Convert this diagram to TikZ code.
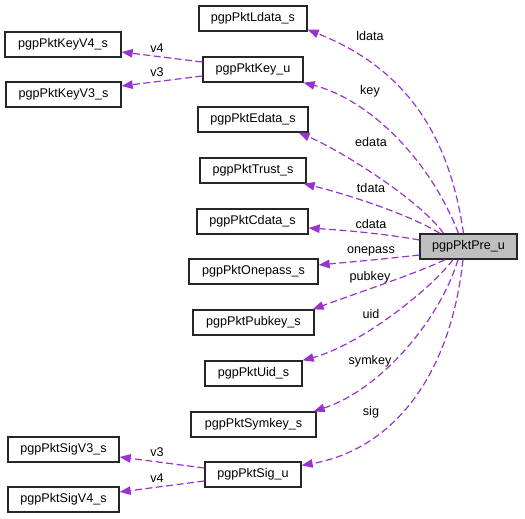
\documentclass[tikz,border=0pt]{standalone}
\usepackage{fontspec}
\setmainfont{Liberation Sans}
\usetikzlibrary{arrows.meta}
\definecolor{edgecol}{HTML}{9A32CD}
\definecolor{hl}{HTML}{BFBFBF}
\begin{document}
\begin{tikzpicture}[x=1pt,y=-1pt,
  box/.style={draw=black!85,line width=1.3pt,minimum height=25pt,inner sep=0pt,font=\fontsize{12.6}{14}\selectfont},
  use/.style={draw=edgecol,line width=1.2pt,dash pattern=on 7pt off 3.5pt,-{Triangle[length=11pt,width=8.5pt,fill=edgecol]}},
  lbl/.style={font=\fontsize{12.6}{14}\selectfont,inner sep=0pt}]
\useasboundingbox (0,0) rectangle (525,519);
\node[box,minimum width=108pt] (ldata) at (253,18.5) {pgpPktLdata\_s};
\node[box,minimum width=116pt] (keyv4) at (63,44.5) {pgpPktKeyV4\_s};
\node[box,minimum width=100pt] (key) at (253,69.5) {pgpPktKey\_u};
\node[box,minimum width=115pt] (keyv3) at (63.5,94.5) {pgpPktKeyV3\_s};
\node[box,minimum width=110pt] (edata) at (253,119.5) {pgpPktEdata\_s};
\node[box,minimum width=106pt] (trust) at (253,170.5) {pgpPktTrust\_s};
\node[box,minimum width=111pt] (cdata) at (252.5,221.5) {pgpPktCdata\_s};
\node[box,minimum width=97pt,fill=hl] (pre) at (468.5,246.5) {pgpPktPre\_u};
\node[box,minimum width=129pt] (onepass) at (253.5,271.5) {pgpPktOnepass\_s};
\node[box,minimum width=121pt] (pubkey) at (253.5,322.5) {pgpPktPubkey\_s};
\node[box,minimum width=97pt] (uid) at (253.5,373.5) {pgpPktUid\_s};
\node[box,minimum width=125pt] (symkey) at (253.5,424.5) {pgpPktSymkey\_s};
\node[box,minimum width=111pt] (sigv3) at (63.5,449.5) {pgpPktSigV3\_s};
\node[box,minimum width=96pt] (sig) at (253,474.5) {pgpPktSig\_u};
\node[box,minimum width=111pt] (sigv4) at (63.5,499.5) {pgpPktSigV4\_s};

\draw[use] ([xshift=-5]pre.north) .. controls (450,140) and (410,70) .. ([yshift=2]ldata.south east);
\draw[use] ([xshift=-10]pre.north) .. controls (430,160) and (370,100) .. (key.south east);
\draw[use] ([xshift=-25]pre.north) .. controls (420,200) and (340,150) .. ([xshift=-10]edata.south east);
\draw[use] ([xshift=-28.5]pre.north) .. controls (410,215) and (350,195) .. ([xshift=-3]trust.south east);
\draw[use] ([yshift=6.5]pre.west) .. controls (380,233) and (340,230) .. ([yshift=-6.5]cdata.east);
\draw[use] ([yshift=-8.5]pre.west) .. controls (385,259) and (350,262) .. ([yshift=6.5]onepass.east);
\draw[use] ([xshift=-23.5]pre.south) .. controls (420,272) and (360,292) .. ([xshift=-2]pubkey.north east);
\draw[use] ([xshift=-15.5]pre.south) .. controls (430,290) and (360,345) .. (uid.north east);
\draw[use] ([xshift=-10.5]pre.south) .. controls (440,320) and (380,390) .. ([xshift=-3]symkey.north east);
\draw[use] ([xshift=-5.5]pre.south) .. controls (450,380) and (390,450) .. ([yshift=-4]sig.north east);
\draw[use] ([yshift=7.5]key.west) -- ([yshift=-7.5]keyv4.east);
\draw[use] ([yshift=-6.5]key.west) -- ([yshift=8.5]keyv3.east);
\draw[use] ([yshift=6.5]sig.west) -- ([yshift=-7.5]sigv3.east);
\draw[use] ([yshift=-6.5]sig.west) -- ([yshift=7.5]sigv4.east);

\node[lbl] (lldata) at (370,36) {ldata};
\node[lbl] (lkey) at (370,91) {key};
\node[lbl] (ledata) at (371,142) {edata};
\node[lbl] (ltdata) at (371,188) {tdata};
\node[lbl] (lcdata) at (371,224) {cdata};
\node[lbl] (lonepass) at (371,251) {onepass};
\node[lbl] (lpubkey) at (370,277) {pubkey};
\node[lbl] (luid) at (371,314) {uid};
\node[lbl] (lsymkey) at (370,361) {symkey};
\node[lbl] (lsig) at (371,412) {sig};
\node[lbl] (lv4a) at (157,48) {v4};
\node[lbl] (lv3a) at (157,72) {v3};
\node[lbl] (lv3b) at (157,452) {v3};
\node[lbl] (lv4b) at (157,478) {v4};
\end{tikzpicture}
\end{document}
